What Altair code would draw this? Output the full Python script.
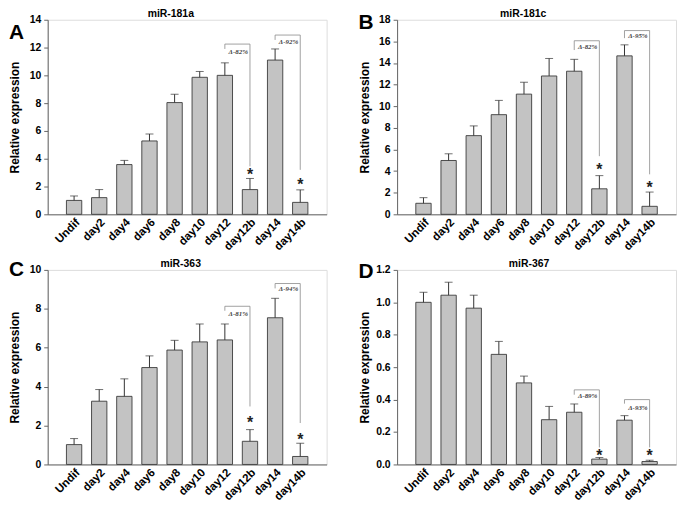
import altair as alt
import pandas as pd

CATEGORIES = ["Undif", "day2", "day4", "day6", "day8", "day10", "day12", "day12b", "day14", "day14b"]

TITLES = ["miR-181a", "miR-181c", "miR-363", "miR-367"]
LETTERS = ["A", "B", "C", "D"]

A_MEAN = [1.0, 1.2, 3.58, 5.28, 8.04, 9.86, 10.0, 1.78, 11.1, 0.86]
A_ERR = [0.32, 0.58, 0.3, 0.5, 0.6, 0.42, 0.9, 0.8, 0.8, 0.9]
B_MEAN = [1.02, 4.98, 7.28, 9.22, 11.12, 12.8, 13.24, 2.36, 14.66, 0.74]
B_ERR = [0.52, 0.62, 0.9, 1.32, 1.1, 1.62, 1.1, 1.22, 1.02, 1.32]
C_MEAN = [1.02, 3.25, 3.5, 4.98, 5.88, 6.3, 6.4, 1.19, 7.54, 0.41]
C_ERR = [0.31, 0.6, 0.9, 0.6, 0.5, 0.92, 0.82, 0.6, 1.0, 0.68]
D_MEAN = [1.0, 1.044, 0.964, 0.679, 0.503, 0.276, 0.322, 0.033, 0.273, 0.018]
D_ERR = [0.062, 0.08, 0.08, 0.08, 0.042, 0.082, 0.051, 0.01, 0.028, 0.008]

Y_MAX = [14, 18, 10, 1.2]
Y_TICKS = [
    [0, 2, 4, 6, 8, 10, 12, 14],
    [0, 2, 4, 6, 8, 10, 12, 14, 16, 18],
    [0, 2, 4, 6, 8, 10],
    [0.0, 0.2, 0.4, 0.6, 0.8, 1.0, 1.2],
]
Y_FORMAT = ["d", "d", "d", ".1f"]

BR_LEFT_CAT = ["day12", "day14"]
BR_RIGHT_CAT = ["day12b", "day14b"]
A_BR_TOP = [12.25, 12.9]
A_BR_LBOT = [11.9, 12.55]
A_BR_RBOT = [3.45, 3.2]
A_BR_TY = [11.7, 12.4]
A_BR_LABEL = ["Δ-82%", "Δ-92%"]
A_STARS = [3.1, 2.4]

B_BR_TOP = [16.06, 17.0]
B_BR_LBOT = [15.2, 16.3]
B_BR_RBOT = [5.38, 3.7]
B_BR_TY = [15.5, 16.5]
B_BR_LABEL = ["Δ-82%", "Δ-95%"]
B_STARS = [4.46, 2.77]

C_BR_TOP = [8.13, 9.3]
C_BR_LBOT = [7.9, 9.05]
C_BR_RBOT = [2.98, 2.13]
C_BR_TY = [7.74, 9.0]
C_BR_LABEL = ["Δ-81%", "Δ-94%"]
C_STARS = [2.35, 1.48]

D_BR_TOP = [0.46, 0.40]
D_BR_LBOT = [0.43, 0.375]
D_BR_RBOT = [0.105, 0.105]
D_BR_TY = [0.425, 0.35]
D_BR_LABEL = ["Δ-89%", "Δ-93%"]
D_STARS = [0.075, 0.075]

FONT = "Liberation Sans"


def panel(idx, mean, err, br_top, br_lbot, br_rbot, br_ty, br_label, stars,
          width, title_x, letter_y):
    df = pd.DataFrame({
        "cat": CATEGORIES,
        "mean": mean,
        "upper": [m + e for m, e in zip(mean, err)],
    })
    br = pd.DataFrame({
        "c1": BR_LEFT_CAT, "c2": BR_RIGHT_CAT, "top": br_top,
        "lbot": br_lbot, "rbot": br_rbot, "ty": br_ty, "label": br_label,
    })
    st = pd.DataFrame({"cat": BR_RIGHT_CAT, "y": stars, "s": ["*", "*"]})

    xscale = alt.Scale(domain=CATEGORIES, paddingInner=0.39, paddingOuter=0.745)
    yscale = alt.Scale(domain=[0, Y_MAX[idx]], nice=False, zero=True)

    xaxis = alt.Axis(title=None, labelAngle=-45, labelFontSize=11.5,
                     labelFontWeight="bold", labelFont=FONT,
                     labelAlign="right", labelBaseline="top",
                     labelOverlap=False,
                     ticks=False, labelPadding=2,
                     labelColor="black", domainColor="#666")
    yaxis = alt.Axis(title="Relative expression", values=Y_TICKS[idx],
                     format=Y_FORMAT[idx], grid=False,
                     labelOverlap=False, labelFlush=False,
                     labelFontSize=10.5, labelFontWeight="bold",
                     labelFont=FONT, labelColor="black",
                     labelPadding=3, tickSize=4, tickColor="#666",
                     domainColor="#666",
                     titleFont=FONT, titleFontSize=12,
                     titleFontWeight="bold", titleColor="black",
                     titleX=-26, titleY=98, titleAngle=270,
                     titleAlign="center", titleBaseline="bottom")

    def X(field):
        return alt.X(field, type="nominal", scale=xscale, axis=xaxis)

    def Y(field):
        return alt.Y(field, type="quantitative", scale=yscale, axis=yaxis)

    base = alt.Chart(df)
    bars = base.mark_bar(fill="#c3c3c3", stroke="#3a3a3a", strokeWidth=0.9).encode(
        x=X("cat"), y=Y("mean"))
    err_rule = base.mark_rule(color="#333", strokeWidth=1).encode(
        x=X("cat"), y=Y("mean"), y2="upper:Q")
    cap = base.mark_tick(color="#333", size=8, thickness=1).encode(
        x=X("cat"), y=Y("upper"))

    bchart = alt.Chart(br)
    horiz = bchart.mark_rule(color="#8a8a8a", strokeWidth=0.8).encode(
        x=X("c1"), x2="c2:N", y=Y("top"))
    lleg = bchart.mark_rule(color="#8a8a8a", strokeWidth=0.8).encode(
        x=X("c1"), y=Y("top"), y2="lbot:Q")
    rleg = bchart.mark_rule(color="#8a8a8a", strokeWidth=0.8).encode(
        x=X("c2"), y=Y("top"), y2="rbot:Q")
    blabel = bchart.mark_text(font="Liberation Serif", fontSize=7, fontStyle="italic",
                              fontWeight="bold", color="#444", align="right",
                              baseline="middle", dx=-2).encode(
        x=X("c2"), y=Y("ty"), text="label:N")
    stars_t = alt.Chart(st).mark_text(font=FONT, fontSize=16, fontWeight="bold",
                                      color="#222", baseline="alphabetic", dy=9).encode(
        x=X("cat"), y=Y("y"), text="s:N")

    tdf = pd.DataFrame({"t": [TITLES[idx]]})
    title_t = alt.Chart(tdf).mark_text(font=FONT, fontSize=10.5, fontWeight="bold",
                                       color="black", align="center",
                                       baseline="bottom").encode(
        x=alt.value(title_x), y=alt.value(-1), text="t:N")
    ldf = pd.DataFrame({"t": [LETTERS[idx]]})
    letter_t = alt.Chart(ldf).mark_text(font=FONT, fontSize=21, fontWeight="bold",
                                        color="black", align="left",
                                        baseline="top").encode(
        x=alt.value(-39), y=alt.value(letter_y), text="t:N")

    return alt.layer(bars, err_rule, cap, horiz, lleg, rleg, blabel, stars_t,
                     title_t, letter_t).properties(width=width, height=196)


pA = panel(0, A_MEAN, A_ERR, A_BR_TOP, A_BR_LBOT, A_BR_RBOT, A_BR_TY, A_BR_LABEL,
           A_STARS, 281, 124, 2)
pB = panel(1, B_MEAN, B_ERR, B_BR_TOP, B_BR_LBOT, B_BR_RBOT, B_BR_TY, B_BR_LABEL,
           B_STARS, 281, 127, -8)
pC = panel(2, C_MEAN, C_ERR, C_BR_TOP, C_BR_LBOT, C_BR_RBOT, C_BR_TY, C_BR_LABEL,
           C_STARS, 281, 134, -11)
pD = panel(3, D_MEAN, D_ERR, D_BR_TOP, D_BR_LBOT, D_BR_RBOT, D_BR_TY, D_BR_LABEL,
           D_STARS, 281, 133, -9)

chart = alt.concat(pA, pB, pC, pD, columns=2,
                   spacing={"row": 56, "column": 71}, bounds="flush").configure_view(
    stroke="#8c8c8c", strokeWidth=1
).configure(background="white", padding={"top": -2, "left": 0, "right": 0, "bottom": 0})

chart.save("out.html", embed_options={"renderer": "svg", "actions": False})
